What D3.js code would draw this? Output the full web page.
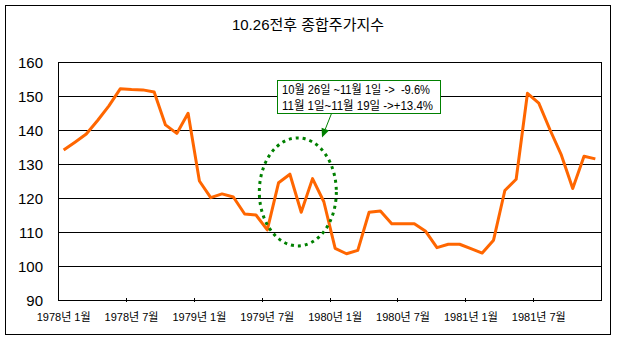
<!DOCTYPE html>
<html><head><meta charset="utf-8">
<script src="https://cdn.jsdelivr.net/npm/d3@7"></script>
<style>
html,body{margin:0;padding:0;background:#fff;}
svg text{font-family:"Liberation Sans","Noto Sans CJK KR",sans-serif;fill:#000;}
</style></head>
<body>
<svg id="chart" width="617" height="341"></svg>
<script>
const title = "10.26전후 종합주가지수";
const years = [1978, 1979, 1980, 1981];
const months = [1,2,3,4,5,6,7,8,9,10,11,12];
const categories = [];
years.forEach(y => months.forEach(m => categories.push(y + "년 " + m + "월")));
const values = [134.1, 136.4, 138.8, 142.8, 147.1, 152.1, 151.9, 151.8, 151.2, 141.5, 139.0, 144.9,
                125.0, 120.1, 121.2, 120.3, 115.3, 115.0, 110.6, 124.5, 127.0, 115.8, 125.7, 118.9,
                105.2, 103.6, 104.6, 115.8, 116.2, 112.4, 112.4, 112.4, 110.2, 105.4, 106.4, 106.4,
                105.1, 103.8, 107.6, 122.2, 125.5, 150.8, 147.9, 140.0, 132.6, 122.8, 132.3, 131.5];
const yTicks = [90, 100, 110, 120, 130, 140, 150, 160];
const xTickLabels = ["1978년 1월","1978년 7월","1979년 1월","1979년 7월","1980년 1월","1980년 7월","1981년 1월","1981년 7월"];
const noteLines = ["10월 26일 ~11월 1일 ->  -9.6%", "11월 1일~11월 19일 ->+13.4%"];

const svg = d3.select("#chart");
const L = 58, R = 601, T = 62, B = 300;

// outer border
svg.append("rect").attr("x", 5.5).attr("y", 5.5).attr("width", 605).attr("height", 329)
  .attr("fill", "#fff").attr("stroke", "#000").attr("stroke-width", 1);

svg.append("text").attr("x", 308).attr("y", 30).attr("text-anchor", "middle")
  .style("font-size", "15px").text(title);

const x = d3.scaleBand().domain(categories).range([L, R]).padding(0);
const y = d3.scaleLinear().domain([90, 160]).range([B, T]);
const cx = c => x(c) + x.bandwidth() / 2;

// gridlines
svg.append("g").selectAll("line").data(yTicks.filter(v => v > 90 && v < 160)).join("line")
  .attr("x1", L).attr("x2", R).attr("y1", d => Math.round(y(d)) + 0.5).attr("y2", d => Math.round(y(d)) + 0.5)
  .attr("stroke", "#000").attr("stroke-width", 1);
// plot border
svg.append("rect").attr("x", L + 0.5).attr("y", T + 0.5).attr("width", R - L).attr("height", B - T)
  .attr("fill", "none").attr("stroke", "#000").attr("stroke-width", 1);

// y labels
svg.append("g").selectAll("text").data(yTicks).join("text")
  .attr("x", 43).attr("y", d => y(d) + 5.5).attr("text-anchor", "end")
  .style("font-size", "15px").text(d => d);

// x ticks (every 6 categories, at band boundaries)
const tickCats = categories.filter((c, i) => i % 6 === 0 && i > 0);
svg.append("g").selectAll("line").data(tickCats).join("line")
  .attr("x1", d => Math.round(x(d)) + 0.5).attr("x2", d => Math.round(x(d)) + 0.5)
  .attr("y1", B - 2).attr("y2", B + 2).attr("stroke", "#000");
svg.append("g").selectAll("text").data(xTickLabels).join("text")
  .attr("x", (d, i) => cx(categories[i * 6])).attr("y", 321).attr("text-anchor", "middle")
  .style("font-size", "11px").text(d => d);

// line
const line = d3.line().x((d, i) => cx(categories[i])).y(d => y(d));
svg.append("path").datum(values).attr("d", line).attr("fill", "none")
  .attr("stroke", "#FF6600").attr("stroke-width", 3).attr("stroke-linejoin", "round");

// ellipse annotation (data coords)
const eCx = L + x.bandwidth() * 21.2, eCy = y(121.8);
svg.append("ellipse").attr("cx", eCx).attr("cy", eCy).attr("rx", 38.5).attr("ry", 54)
  .attr("fill", "none").attr("stroke", "#008000").attr("stroke-width", 3).attr("stroke-dasharray", "3,4");

// note box
const bx = 277.5, by = 80.5, bw = 163, bh = 33;
svg.append("rect").attr("x", bx).attr("y", by).attr("width", bw).attr("height", bh)
  .attr("fill", "#fff").attr("stroke", "#008000").attr("stroke-width", 1);
svg.append("g").selectAll("text").data(noteLines).join("text")
  .attr("x", 282).attr("y", (d, i) => 94 + i * 15.5)
  .attr("textLength", (d, i) => i === 0 ? 148 : 151).attr("lengthAdjust", "spacingAndGlyphs")
  .style("font-size", "12px").style("white-space", "pre").text(d => d);

// arrow
const ax1 = 331.5, ay1 = 113.5, ax2 = 322, ay2 = 137.5;
const ang = Math.atan2(ay2 - ay1, ax2 - ax1);
const hl = 9, hw = 4;
const bxp = ax2 - hl * Math.cos(ang), byp = ay2 - hl * Math.sin(ang);
svg.append("line").attr("x1", ax1).attr("y1", ay1).attr("x2", bxp).attr("y2", byp)
  .attr("stroke", "#008000").attr("stroke-width", 1);
svg.append("path").attr("d", d3.line()([
  [ax2, ay2],
  [bxp + hw * Math.sin(ang), byp - hw * Math.cos(ang)],
  [bxp - hw * Math.sin(ang), byp + hw * Math.cos(ang)]
]) + "Z").attr("fill", "#008000");
</script>
</body></html>
